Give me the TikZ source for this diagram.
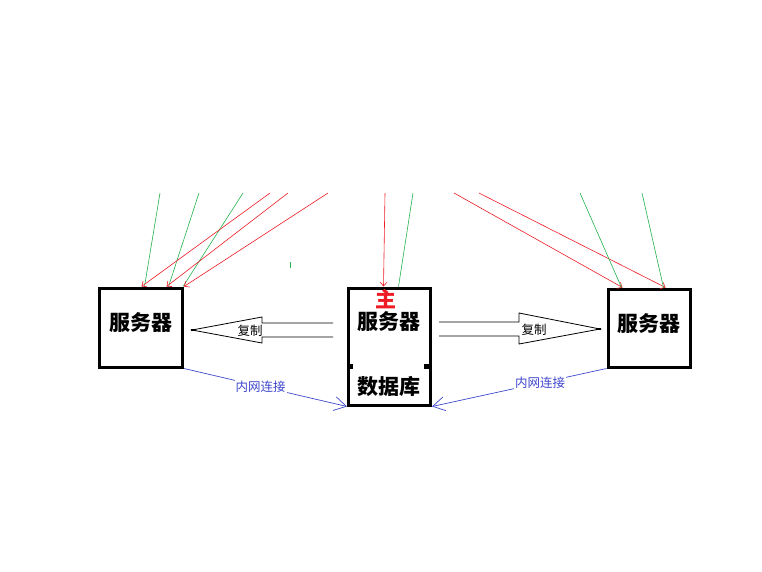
\documentclass[tikz,border=0pt]{standalone}
\usepackage{fontspec}
\newfontfamily\cjk{Noto Sans CJK SC}
\usetikzlibrary{arrows.meta}
\definecolor{pred}{HTML}{ED1C24}
\definecolor{pgreen}{HTML}{22B14C}
\definecolor{pblue}{HTML}{3F48CC}
\tikzset{
  box/.style={draw, line width=3pt, inner sep=0pt},
  boxtext/.style={font=\cjk\bfseries\fontsize{21}{21}\selectfont},
  small/.style={font=\cjk\fontsize{12.5}{12.5}\selectfont},
  req/.style={pred, line width=0.6pt, -{Straight Barb[length=4pt,width=7pt]}},
  res/.style={pgreen, line width=0.6pt},
  lan/.style={pblue, line width=0.7pt, -{Straight Barb[length=12pt,width=14pt]}},
  block/.style={line width=0.8pt}
}
\begin{document}
\begin{tikzpicture}[x=1pt, y=-1pt]
  \useasboundingbox (0,0) rectangle (762,571);

  % servers
  \node[box, minimum width=83pt, minimum height=79pt] (srvL) at (141,327.5) {};
  \node[box, minimum width=82pt, minimum height=117pt] (srvM) at (389.5,346.5) {};
  \node[box, minimum width=82pt, minimum height=78pt] (srvR) at (649,328) {};
  % notches on the master box
  \fill (348,364) rectangle (353,369);
  \fill (424,364) rectangle (431,369);

  % labels
  \node[boxtext] (tL) at (141,323) {服务器};
  \node[boxtext, pred] (tMain) at (386,299) {主};
  \node[boxtext] (tM) at (389,322) {服务器};
  \node[boxtext] (tDb) at (389,386) {数据库};
  \node[boxtext] (tR) at (649,324) {服务器};

  % top end points
  \coordinate (g1) at (160,193);
  \coordinate (g2) at (199,193);
  \coordinate (g3) at (243,193);
  \coordinate (r1) at (270,193);
  \coordinate (r2) at (288,193);
  \coordinate (r3) at (328,193);
  \coordinate (r4) at (385,193);
  \coordinate (g4) at (413,193);
  \coordinate (r5) at (454,193);
  \coordinate (r6) at (479,193);
  \coordinate (g5) at (580,193);
  \coordinate (g6) at (642,193);

  % requests and responses
  \draw[res] (g1) -- ([xshift=46.5pt]srvL.north west);
  \draw[res] (g2) -- ([xshift=70.5pt]srvL.north west);
  \draw[res] (g3) -- ([xshift=-1pt]srvL.north east);
  \draw[req] (r1) -- ([xshift=43.5pt]srvL.north west);
  \draw[req] (r2) -- ([xshift=68.5pt]srvL.north west);
  \draw[req] (r3) -- (srvL.north east);
  \draw[req] (r4) -- ([xshift=36.5pt]srvM.north west);
  \draw[res] (g4) -- ([xshift=51.5pt]srvM.north west);
  \draw[req] (r5) -- ([xshift=16pt]srvR.north west);
  \draw[req] (r6) -- ([xshift=59pt]srvR.north west);
  \draw[res] (g5) -- ([xshift=15pt]srvR.north west);
  \draw[res] (g6) -- ([xshift=57pt]srvR.north west);
  \draw[res] (290,262) -- (290,268);

  % copy arrows
  \draw[block] (333,323) -- (262,323) -- (262,317) -- (192,330) -- (262,343) -- (262,337) -- (333,337);
  \draw[line width=2pt] (191,330) -- (196,330);
  \node[small] (cpL) at (250,331) {复制};
  \draw[block] (439,322) -- (519,322) -- (519,313) -- (600,329) -- (519,344) -- (519,336) -- (439,336);
  \draw[line width=2pt] (596,329) -- (601,329);
  \node[small] (cpR) at (534,330) {复制};

  % intranet links
  \draw[lan] (srvL.south east) -- node[pos=0.47, small, fill=white, inner sep=1pt, text=pblue] (lanL) {内网连接} (srvM.south west);
  \draw[lan] (srvR.south west) -- node[pos=0.38, small, fill=white, inner sep=1pt, text=pblue] (lanR) {内网连接} (srvM.south east);
\end{tikzpicture}
\end{document}
